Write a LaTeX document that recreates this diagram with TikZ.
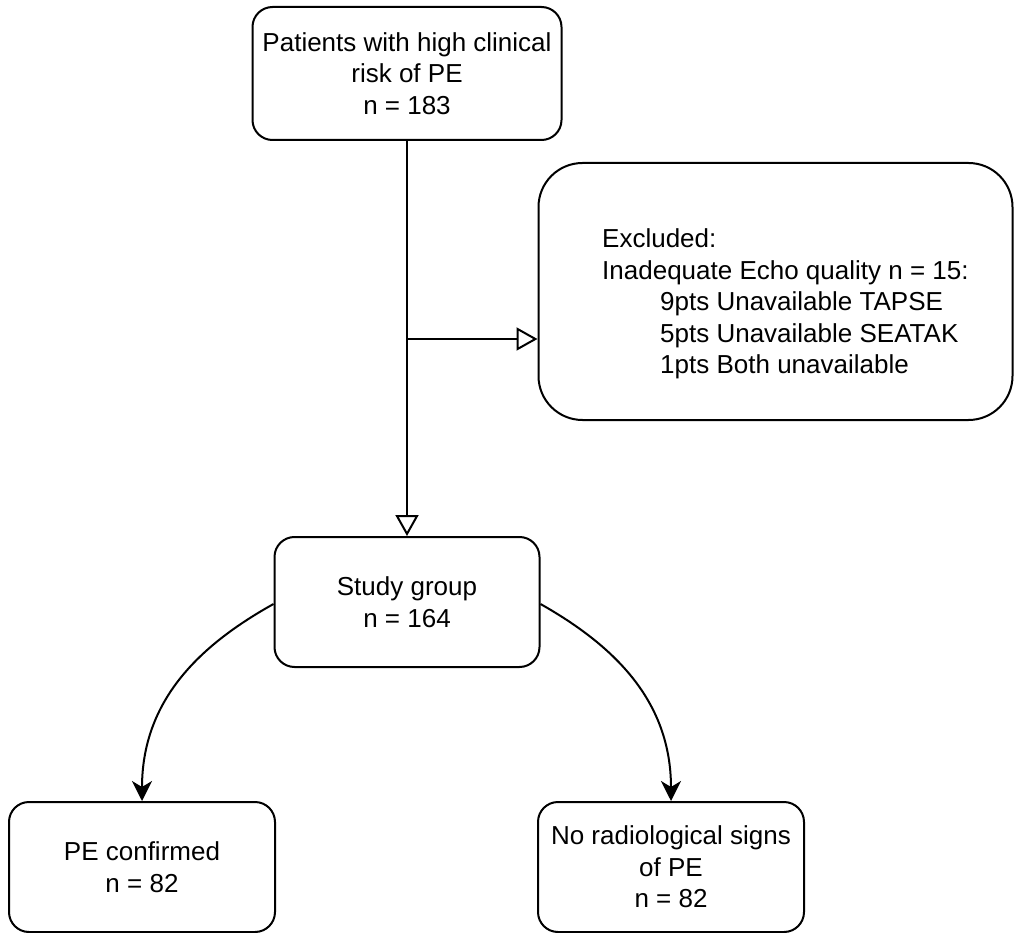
\documentclass[tikz,border=0pt]{standalone}
\usepackage{fontspec}
\setmainfont{Liberation Sans}
\usetikzlibrary{arrows.meta,calc}
\begin{document}
\begin{tikzpicture}[x=1pt,y=-1pt,
  box/.style={draw, line width=2pt, rounded corners=20pt, align=center, inner sep=0pt},
  txt/.style={font=\fontsize{26}{31.5}\selectfont},
  openarrow/.style={-{Triangle[open, length=21pt, width=23pt, line width=2pt]}},
  filledarrow/.style={-{Stealth[length=20pt, width=20pt, inset=6pt]}},
  conn/.style={line width=2pt}]
\useasboundingbox (0,0) rectangle (1015,933);
\node[box, txt, minimum width=309pt, minimum height=133pt] (top) at (407,73.5)
  {Patients with high clinical\\risk of PE\\n = 183};
\node[box, rounded corners=44pt, minimum width=474pt, minimum height=257pt] (excl) at (775.5,291.5) {};
\node[txt, align=left, anchor=west, inner sep=0pt] (excltext) at (602,304)
  {Excluded:\\Inadequate Echo quality n = 15:\\\hspace*{58pt}9pts Unavailable TAPSE\\\hspace*{58pt}5pts Unavailable SEATAK\\\hspace*{58pt}1pts Both unavailable};
\node[box, txt, minimum width=265pt, minimum height=130pt] (study) at (407,602)
  {Study group\\n = 164};
\node[box, txt, minimum width=266pt, minimum height=130pt] (pe) at (142,867)
  {PE confirmed\\n = 82};
\node[box, txt, minimum width=266pt, minimum height=130pt] (nope) at (671,867)
  {No radiological signs\\of PE\\n = 82};
\coordinate (br) at (407,339);
\draw[conn, openarrow] (top.south) -- (top.south |- study.north);
\draw[conn, openarrow] (br) -- (br -| excl.west);
\draw[conn, filledarrow] ($(study.west)+(0,2)$) .. controls (200,645) and (142,700) .. (pe.north);
\draw[conn, filledarrow] ($(study.east)+(0,2)$) .. controls (613,645) and (671,700) .. (nope.north);
\end{tikzpicture}
\end{document}
